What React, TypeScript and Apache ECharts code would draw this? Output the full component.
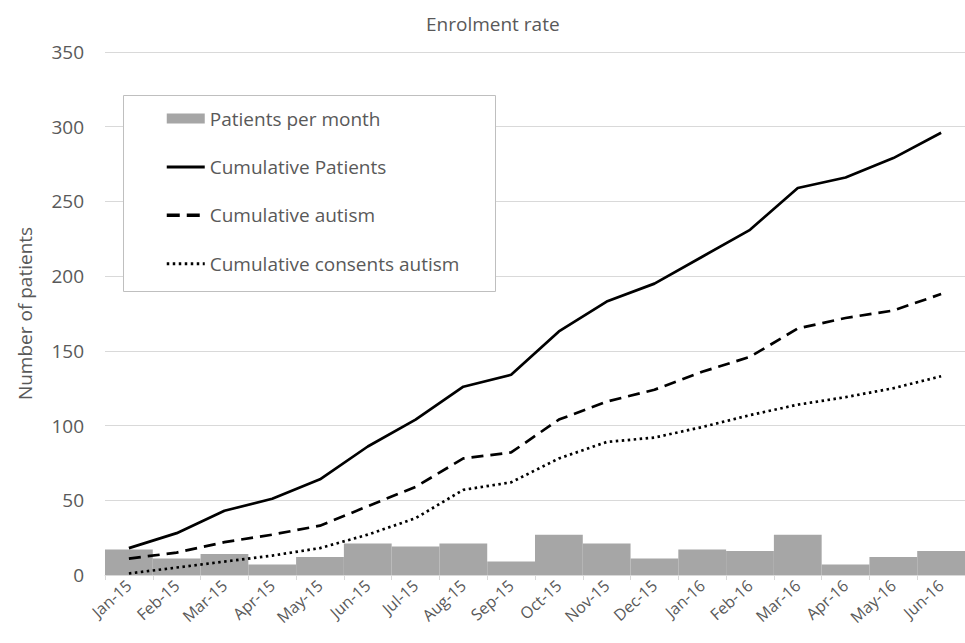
import React, { useEffect, useRef } from "react";
import * as echarts from "echarts";

const months = [
  "Jan-15", "Feb-15", "Mar-15", "Apr-15", "May-15", "Jun-15", "Jul-15", "Aug-15", "Sep-15",
  "Oct-15", "Nov-15", "Dec-15", "Jan-16", "Feb-16", "Mar-16", "Apr-16", "May-16", "Jun-16",
];
const patientsPerMonth = [17, 11, 14, 7, 12, 21, 19, 21, 9, 27, 21, 11, 17, 16, 27, 7, 12, 16];
const cumulativePatients = [18, 28, 43, 51, 64, 86, 104, 126, 134, 163, 183, 195, 213, 231, 259, 266, 279, 296];
const cumulativeAutism = [11, 15, 22, 27, 33, 46, 59, 78, 82, 104, 116, 124, 136, 146, 165, 172, 177, 188];
const cumulativeConsentsAutism = [1, 5, 9, 13, 18, 27, 38, 57, 62, 78, 89, 92, 99, 107, 114, 119, 125, 133];

const FONT = "'Open Sans', 'Noto Sans', sans-serif";
const TXT = "#595959";

export default function App() {
  const ref = useRef<HTMLDivElement>(null);
  useEffect(() => {
    if (!ref.current) return;
    const chart = echarts.init(ref.current, null, { renderer: "svg" });
    chart.setOption({
      animation: false,
      backgroundColor: "#ffffff",
      textStyle: { fontFamily: FONT },
      title: {
        text: "Enrolment rate",
        left: 421,
        top: 9,
        textStyle: { fontFamily: FONT, fontSize: 19, fontWeight: "normal", color: TXT },
      },
      graphic: [
        {
          type: "rect",
          left: 123,
          top: 95,
          shape: { width: 372, height: 196 },
          style: { fill: "#ffffff", stroke: "#bfbfbf", lineWidth: 1 },
          z: 5,
        },
      ],
      legend: {
        orient: "vertical",
        left: 160,
        top: 104,
        itemWidth: 38,
        itemHeight: 20,
        itemGap: 29.4,
        z: 10,
        textStyle: { fontFamily: FONT, fontSize: 19, color: TXT },
        data: [
          { name: "Patients per month", icon: "path://M0,5h38v10h-38z", itemStyle: { color: "#a6a6a6" } },
          { name: "Cumulative Patients", itemStyle: { opacity: 0 }, lineStyle: { width: 3 } },
          { name: "Cumulative autism", itemStyle: { opacity: 0 }, lineStyle: { width: 3.5, type: [13, 7] } },
          { name: "Cumulative consents autism", itemStyle: { opacity: 0 }, lineStyle: { width: 3, type: [2.5, 3.5] } },
        ],
      },
      grid: { left: 105, right: 0, top: 52, bottom: 68, containLabel: false },
      xAxis: {
        type: "category",
        data: months,
        boundaryGap: true,
        axisLine: { lineStyle: { color: "#d9d9d9", width: 1 } },
        axisTick: { show: true, alignWithLabel: false, length: 5, lineStyle: { color: "#d9d9d9" } },
        axisLabel: { rotate: 42, color: TXT, fontSize: 16, fontFamily: FONT, margin: 8, interval: 0 },
      },
      yAxis: {
        type: "value",
        min: 0,
        max: 350,
        interval: 50,
        name: "Number of patients",
        nameLocation: "middle",
        nameGap: 71,
        nameTextStyle: { fontFamily: FONT, fontSize: 19, color: TXT },
        axisLine: { show: false },
        axisTick: { show: false },
        axisLabel: { color: TXT, fontSize: 19, fontFamily: FONT, margin: 21 },
        splitLine: { lineStyle: { color: "#d9d9d9", width: 1 } },
      },
      series: [
        {
          name: "Patients per month",
          type: "bar",
          data: patientsPerMonth,
          barCategoryGap: "0%",
          barGap: "0%",
          itemStyle: { color: "#a6a6a6" },
          z: 1,
        },
        {
          name: "Cumulative Patients",
          type: "line",
          data: cumulativePatients,
          symbol: "none",
          itemStyle: { color: "#000000" },
          lineStyle: { color: "#000000", width: 2.7 },
          z: 3,
        },
        {
          name: "Cumulative autism",
          type: "line",
          data: cumulativeAutism,
          symbol: "none",
          itemStyle: { color: "#000000" },
          lineStyle: { color: "#000000", width: 2.7, type: [12, 7] },
          z: 3,
        },
        {
          name: "Cumulative consents autism",
          type: "line",
          data: cumulativeConsentsAutism,
          symbol: "none",
          itemStyle: { color: "#000000" },
          lineStyle: { color: "#000000", width: 2.7, type: [2.5, 3.5] },
          z: 3,
        },
      ],
    });
    return () => chart.dispose();
  }, []);
  return (
    <div
      ref={ref}
      style={{ position: "fixed", left: 0, top: 0, width: 965, height: 643, background: "#fff" }}
    />
  );
}
